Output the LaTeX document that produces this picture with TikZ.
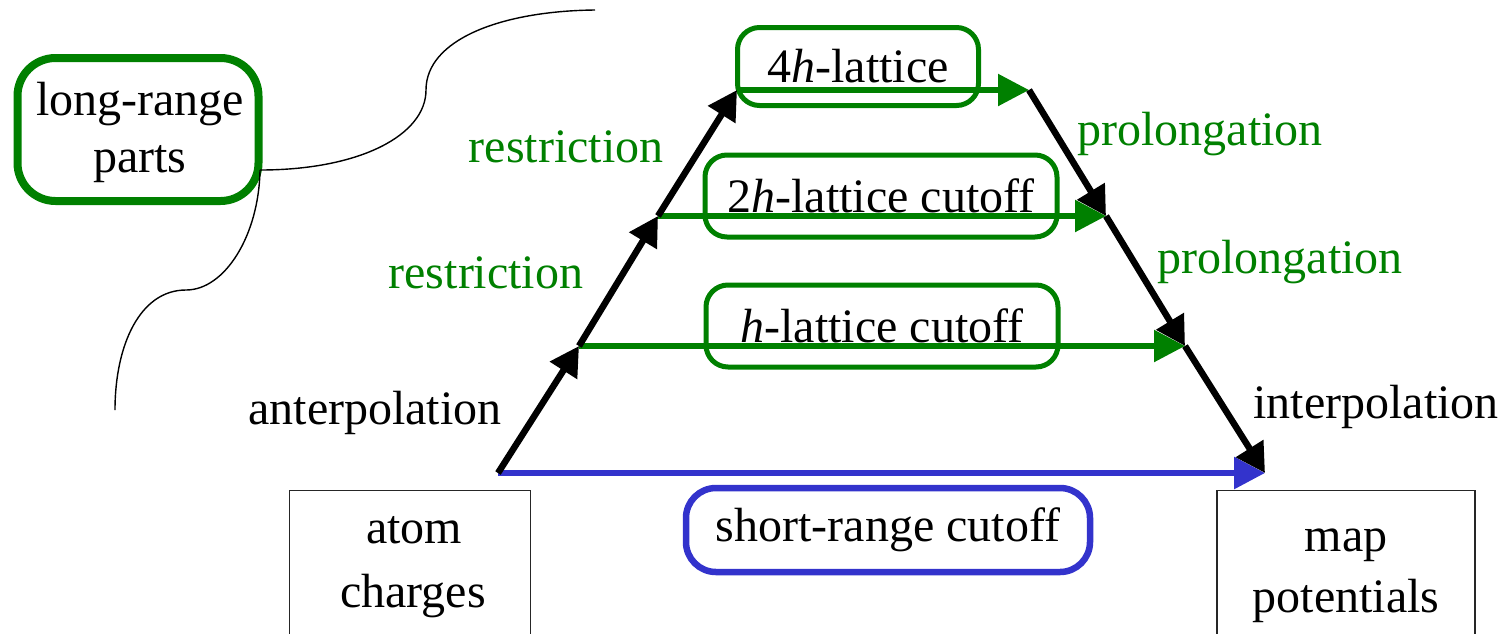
\documentclass[tikz,border=0pt]{standalone}
\usepackage{fontspec}
\setmainfont{Liberation Serif}
\usetikzlibrary{arrows.meta}
\definecolor{dgreen}{RGB}{0,128,0}
\definecolor{dblue}{RGB}{51,51,204}
\begin{document}
\begin{tikzpicture}[x=1pt,y=-1pt,
  font=\fontsize{48}{58}\selectfont,
  gbox/.style={draw=dgreen, line width=5pt, rounded corners=22pt, inner sep=0pt},
  lrbox/.style={draw=dgreen, line width=8pt, rounded corners=38pt, inner sep=0pt},
  bbox/.style={draw=dblue, line width=6.5pt, rounded corners=30pt, inner sep=0pt},
  rbox/.style={draw=black!85, line width=1.2pt, inner sep=0pt},
  gtext/.style={text=dgreen, inner sep=0pt},
  btext/.style={text=black, inner sep=0pt},
  blackarr/.style={draw=black, line width=6.5pt, -{Triangle[length=29pt,width=31pt]}},
  greenarr/.style={draw=dgreen, line width=5.5pt, -{Triangle[length=31pt,width=31pt]}},
  bluearr/.style={draw=dblue, line width=6pt, -{Triangle[length=31pt,width=31pt]}},
  thinline/.style={draw=black, line width=1.4pt}]
\useasboundingbox (0,0) rectangle (1505,633);
\clip (0,0) rectangle (1505,633);

% corner points of the trapezoid
\coordinate (A0) at (498,473);
\coordinate (A1) at (579,346);
\coordinate (A2) at (658,216);
\coordinate (A3) at (737,90);
\coordinate (B3) at (1029,90);
\coordinate (B2) at (1106,216);
\coordinate (B1) at (1185,346);
\coordinate (B0) at (1265,473);

% lattice boxes
\node[gbox, minimum width=241pt, minimum height=78pt] (l4) at (858,66.5) {4\textit{h}-lattice};
\node[gbox, minimum width=352pt, minimum height=82pt] (l2) at (881,196) {2\textit{h}-lattice cutoff};
\node[gbox, minimum width=352pt, minimum height=82pt] (l1) at (882,326) {\textit{h}-lattice cutoff};
\node[bbox, minimum width=404pt, minimum height=84pt] (sr) at (888,530) {short-range cutoff};

% long-range parts
\node[lrbox, minimum width=241pt, minimum height=143pt] (lr) at (138,129.5) {};
\node[btext, anchor=base] (lrt1) at (140,115) {long-range};
\node[btext, anchor=base] (lrt2) at (140,172) {parts};

% end boxes
\node[rbox, minimum width=241pt, minimum height=220pt, anchor=north] (atom) at (410,490) {};
\node[btext, anchor=base] (atomt1) at (414,543) {atom};
\node[btext, anchor=base] (atomt2) at (413,607) {charges};
\node[rbox, minimum width=258pt, minimum height=220pt, anchor=north] (map) at (1346,490) {};
\node[btext, anchor=base] (mapt1) at (1346,551) {map};
\node[btext, anchor=base] (mapt2) at (1346,612) {potentials};

% labels
\node[gtext, anchor=base] (r1) at (566,162) {restriction};
\node[gtext, anchor=base] (r2) at (486,288) {restriction};
\node[btext, anchor=base] (ant) at (375,424) {anterpolation};
\node[gtext, anchor=base] (p1) at (1200,145) {prolongation};
\node[gtext, anchor=base] (p2) at (1280,273) {prolongation};
\node[btext, anchor=base] (ip) at (1376,418) {interpolation};

% horizontal arrows
\draw[greenarr] (A3) -- (B3);
\draw[greenarr] (A2) -- (B2);
\draw[greenarr] (A1) -- (B1);
\draw[bluearr] (A0) -- (B0);

% slanted arrows
\draw[blackarr] (A0) -- (A1);
\draw[blackarr] (A1) -- (A2);
\draw[blackarr] (A2) -- (A3);
\draw[blackarr] (B3) -- (B2);
\draw[blackarr] (B2) -- (B1);
\draw[blackarr] (B1) -- (B0);

% curves from long-range box
\coordinate (c0) at (260,170);
\coordinate (ctop) at (595,10);
\coordinate (cbot) at (115,410);
\draw[thinline] (c0) .. controls (360,170) and (426,135) .. (426,90)
  .. controls (426,40) and (500,11) .. (ctop);
\draw[thinline] (c0) .. controls (259,235) and (225,290) .. (186,290)
  .. controls (140,290) and (115,345) .. (cbot);
\end{tikzpicture}
\end{document}
